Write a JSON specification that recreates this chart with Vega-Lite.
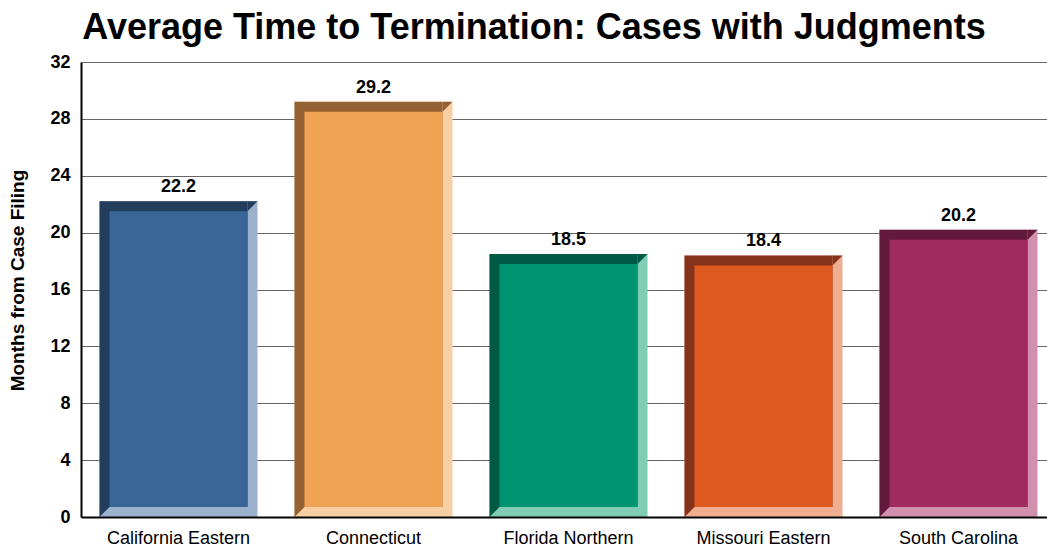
{
  "$schema": "https://vega.github.io/schema/vega-lite/v6.json",
  "width": 966,
  "height": 455,
  "autosize": {"type": "none"},
  "padding": {"left": 81, "top": 62, "right": 0, "bottom": 31},
  "background": "white",
  "config": {
    "font": "Liberation Sans",
    "view": {"stroke": null}
  },
  "title": {
    "text": "Average Time to Termination: Cases with Judgments",
    "fontSize": 36,
    "fontWeight": "bold",
    "font": "Liberation Sans",
    "color": "black",
    "anchor": "middle",
    "dx": -30,
    "offset": 6
  },
  "data": {
    "values": [
      {"court": "California Eastern", "value": 22.2},
      {"court": "Connecticut", "value": 29.2},
      {"court": "Florida Northern", "value": 18.5},
      {"court": "Missouri Eastern", "value": 18.4},
      {"court": "South Carolina", "value": 20.2}
    ]
  },
  "encoding": {
    "x": {
      "field": "court",
      "type": "nominal",
      "sort": null,
      "scale": {"range": [0, 975], "paddingInner": 0, "paddingOuter": 0},
      "axis": {
        "title": null,
        "labelAngle": 0,
        "labelFontSize": 18,
        "labelColor": "black",
        "labelPadding": 12,
        "ticks": false,
        "domainColor": "black",
        "domainWidth": 2,
        "grid": false,
        "zindex": 1
      }
    },
    "y": {
      "field": "value",
      "type": "quantitative",
      "scale": {"domain": [0, 32], "nice": false},
      "axis": {
        "title": "Months from Case Filing",
        "titleFontSize": 19,
        "titleFontWeight": "bold",
        "titleColor": "black",
        "titlePadding": 22,
        "titleY": 218,
        "values": [0, 4, 8, 12, 16, 20, 24, 28, 32],
        "labelFontSize": 18,
        "labelFontWeight": "bold",
        "labelColor": "black",
        "labelPadding": 11,
        "ticks": false,
        "domainColor": "black",
        "domainWidth": 2,
        "gridColor": "#666666",
        "gridWidth": 1,
        "gridOpacity": 1
      }
    }
  },
  "layer": [
    {
      "mark": {"type": "bar", "width": 158},
      "encoding": {
        "y2": {"datum": 0},
        "color": {
          "field": "court",
          "type": "nominal",
          "scale": {
            "domain": ["California Eastern", "Connecticut", "Florida Northern", "Missouri Eastern", "South Carolina"],
            "range": ["#9CB1CB", "#F8CFA3", "#80CCB4", "#F0AE90", "#D090AE"]
          },
          "legend": null
        }
      }
    },
    {
      "mark": {"type": "bar", "width": 148, "xOffset": -5, "y2Offset": -10},
      "encoding": {
        "y2": {"datum": 0},
        "color": {
          "field": "court",
          "type": "nominal",
          "scale": {
            "domain": ["California Eastern", "Connecticut", "Florida Northern", "Missouri Eastern", "South Carolina"],
            "range": ["#233D5C", "#936132", "#005A43", "#85331A", "#62193A"]
          },
          "legend": null
        }
      }
    },
    {
      "mark": {"type": "point", "shape": "M -1 -1 L 1 -1 L -1 1 Z", "size": 100, "filled": true, "opacity": 1, "strokeWidth": 0, "xOffset": 74, "yOffset": 5},
      "encoding": {
        "color": {
          "field": "court",
          "type": "nominal",
          "scale": {
            "domain": ["California Eastern", "Connecticut", "Florida Northern", "Missouri Eastern", "South Carolina"],
            "range": ["#233D5C", "#936132", "#005A43", "#85331A", "#62193A"]
          },
          "legend": null
        }
      }
    },
    {
      "mark": {"type": "point", "shape": "M -1 -1 L 1 -1 L -1 1 Z", "size": 100, "filled": true, "opacity": 1, "strokeWidth": 0, "xOffset": -74, "yOffset": -5},
      "encoding": {
        "y": {"datum": 0, "type": "quantitative"},
        "color": {
          "field": "court",
          "type": "nominal",
          "scale": {
            "domain": ["California Eastern", "Connecticut", "Florida Northern", "Missouri Eastern", "South Carolina"],
            "range": ["#233D5C", "#936132", "#005A43", "#85331A", "#62193A"]
          },
          "legend": null
        }
      }
    },
    {
      "mark": {"type": "bar", "width": 138, "yOffset": 10, "y2Offset": -10},
      "encoding": {
        "y2": {"datum": 0},
        "color": {
          "field": "court",
          "type": "nominal",
          "scale": {
            "domain": ["California Eastern", "Connecticut", "Florida Northern", "Missouri Eastern", "South Carolina"],
            "range": ["#3A6697", "#F0A453", "#009572", "#DE5A20", "#A12B5E"]
          },
          "legend": null
        }
      }
    },
    {
      "mark": {"type": "text", "dy": -9, "baseline": "alphabetic", "fontSize": 18, "fontWeight": "bold", "color": "black"},
      "encoding": {
        "text": {"field": "value", "type": "quantitative", "format": ".1f"}
      }
    }
  ],
  "resolve": {"scale": {"color": "independent"}}
}
